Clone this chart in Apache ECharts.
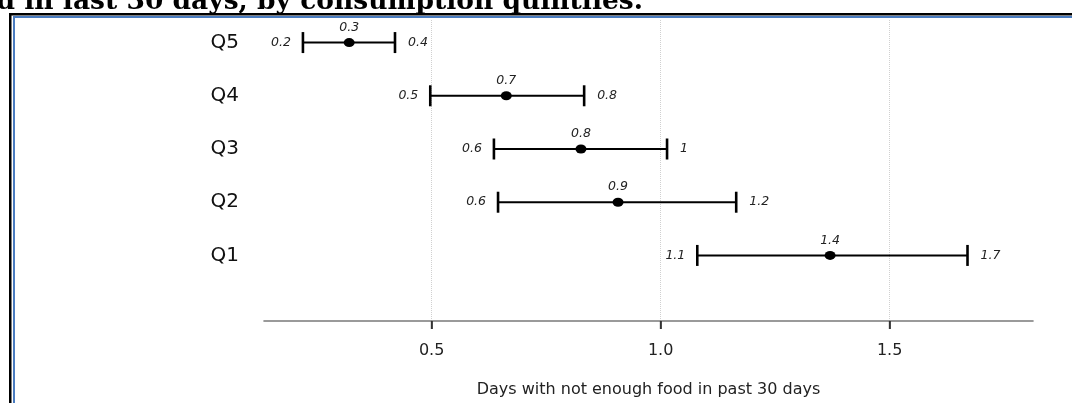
<!DOCTYPE html>
<html>
<head>
<meta charset="utf-8">
<script src="https://cdn.jsdelivr.net/npm/echarts@6/dist/echarts.min.js"></script>
<style>
html, body { margin: 0; padding: 0; background: #fff; }
#chartMain { width: 1072px; height: 403px; }
</style>
</head>
<body>
<div id="chartMain"></div>
<script>
// quintiles, bottom to top
var quintiles = [ 'Q1', 'Q2', 'Q3', 'Q4', 'Q5' ];
var lowerCI = [ 1.08, 0.645, 0.636, 0.497, 0.219 ];
var meanDays = [ 1.37, 0.907, 0.826, 0.663, 0.320 ];
var upperCI = [ 1.67, 1.165, 1.014, 0.833, 0.420 ];
var lowerText = [ '1.1', '0.6', '0.6', '0.5', '0.2' ];
var meanText = [ '1.4', '0.9', '0.8', '0.7', '0.3' ];
var upperText = [ '1.7', '1.2', '1', '0.8', '0.4' ];
var xTicks = [ 0.5, 1.0, 1.5 ];
var yTicks = [ 1, 2, 3, 4, 5 ];
var yMin = -0.232, yMax = 5.424;

var ciData = [];
var meanData = [];
for (var i = 0; i < quintiles.length; i++) {
	ciData.push([ lowerCI[i], upperCI[i], i + 1 ]);
	meanData.push([ meanDays[i], i + 1 ]);
}
var tickData = xTicks.map(function(v) {
	return [ v, yMin ];
});

var labelFont = 'DejaVu Sans';
var smallStyle = {
	fontFamily : labelFont,
	fontStyle : 'italic',
	fontSize : 12.5,
	fill : '#222'
};

// error bar with caps and the two end labels
function renderBar(params, api) {
	var y = api.value(2);
	var lo = api.coord([ api.value(0), y ]);
	var hi = api.coord([ api.value(1), y ]);
	var capH = 10.5;
	var lineStyle = {
		stroke : '#000',
		lineWidth : 2
	};
	var capStyle = {
		stroke : '#000',
		lineWidth : 2.6
	};
	return {
		type : 'group',
		children : [ {
			type : 'line',
			shape : { x1 : lo[0], y1 : lo[1], x2 : hi[0], y2 : hi[1] },
			style : lineStyle
		}, {
			type : 'line',
			shape : { x1 : lo[0], y1 : lo[1] - capH, x2 : lo[0], y2 : lo[1] + capH },
			style : capStyle
		}, {
			type : 'line',
			shape : { x1 : hi[0], y1 : hi[1] - capH, x2 : hi[0], y2 : hi[1] + capH },
			style : capStyle
		}, {
			type : 'text',
			x : lo[0] - 12,
			y : lo[1],
			style : Object.assign({
				text : lowerText[params.dataIndex],
				align : 'right',
				verticalAlign : 'middle'
			}, smallStyle)
		}, {
			type : 'text',
			x : hi[0] + 13,
			y : hi[1],
			style : Object.assign({
				text : upperText[params.dataIndex],
				align : 'left',
				verticalAlign : 'middle'
			}, smallStyle)
		} ]
	};
}

// small tick marks under the x axis
function renderTick(params, api) {
	var p = api.coord([ api.value(0), api.value(1) ]);
	return {
		type : 'line',
		shape : { x1 : p[0], y1 : p[1], x2 : p[0], y2 : p[1] + 8 },
		style : { stroke : '#333', lineWidth : 1.6 }
	};
}

var option = {
	animation : false,
	grid : {
		left : 264,
		right : 39,
		top : 20,
		bottom : 80
	},
	xAxis : {
		type : 'value',
		min : 0.134,
		max : 1.813,
		name : 'Days with not enough food in past 30 days',
		nameLocation : 'middle',
		nameGap : 61,
		nameTextStyle : {
			fontFamily : labelFont,
			fontSize : 16,
			color : '#222'
		},
		axisLine : {
			onZero : false,
			lineStyle : { color : '#7a7a7a', width : 1.6 }
		},
		axisTick : {
			show : true,
			customValues : xTicks,
			length : 8,
			lineStyle : { color : '#333', width : 1.6 }
		},
		axisLabel : {
			customValues : xTicks,
			margin : 22,
			fontFamily : labelFont,
			fontSize : 16,
			color : '#222',
			formatter : function(v) {
				return v.toFixed(1);
			}
		},
		splitLine : {
			show : true,
			lineStyle : { color : '#d0d0d0', type : 'dotted', width : 1 }
		}
	},
	yAxis : {
		type : 'value',
		min : yMin,
		max : yMax,
		axisLine : { show : false },
		axisTick : { show : false },
		splitLine : { show : false },
		axisLabel : {
			customValues : yTicks,
			margin : 25,
			fontFamily : labelFont,
			fontSize : 20,
			color : '#111',
			formatter : function(v) {
				return quintiles[Math.round(v) - 1] || '';
			}
		}
	},
	series : [ {
		type : 'custom',
		renderItem : renderBar,
		encode : { x : [ 0, 1 ], y : 2 },
		data : ciData,
		z : 2
	}, {
		type : 'scatter',
		data : meanData,
		symbol : 'circle',
		symbolSize : [ 11, 9 ],
		itemStyle : { color : '#000', opacity : 1 },
		label : {
			show : true,
			position : 'top',
			distance : 4,
			fontFamily : labelFont,
			fontStyle : 'italic',
			fontSize : 12.5,
			color : '#222',
			formatter : function(p) {
				return meanText[p.dataIndex];
			}
		},
		z : 3
	}, {
		type : 'custom',
		renderItem : renderTick,
		clip : false,
		silent : true,
		encode : { x : 0, y : 1 },
		data : tickData,
		z : 4
	} ],
	graphic : [ {
		type : 'text',
		x : 643,
		y : 16,
		style : {
			text : 'd in last 30 days, by consumption quintiles.',
			align : 'right',
			verticalAlign : 'bottom',
			fontFamily : 'DejaVu Serif',
			fontWeight : 'bold',
			fontSize : 26.5,
			fill : '#000'
		}
	}, {
		type : 'rect',
		shape : { x : 9, y : 13, width : 1063, height : 2.5 },
		style : { fill : '#000' }
	}, {
		type : 'rect',
		shape : { x : 9, y : 13, width : 2.5, height : 390 },
		style : { fill : '#000' }
	}, {
		type : 'rect',
		shape : { x : 13, y : 16, width : 1059, height : 2 },
		style : { fill : '#4a7cc0' }
	}, {
		type : 'rect',
		shape : { x : 13, y : 16, width : 2, height : 387 },
		style : { fill : '#4a7cc0' }
	} ]
};

var myChart = echarts.init(document.getElementById('chartMain'));
myChart.setOption(option);
</script>
</body>
</html>
